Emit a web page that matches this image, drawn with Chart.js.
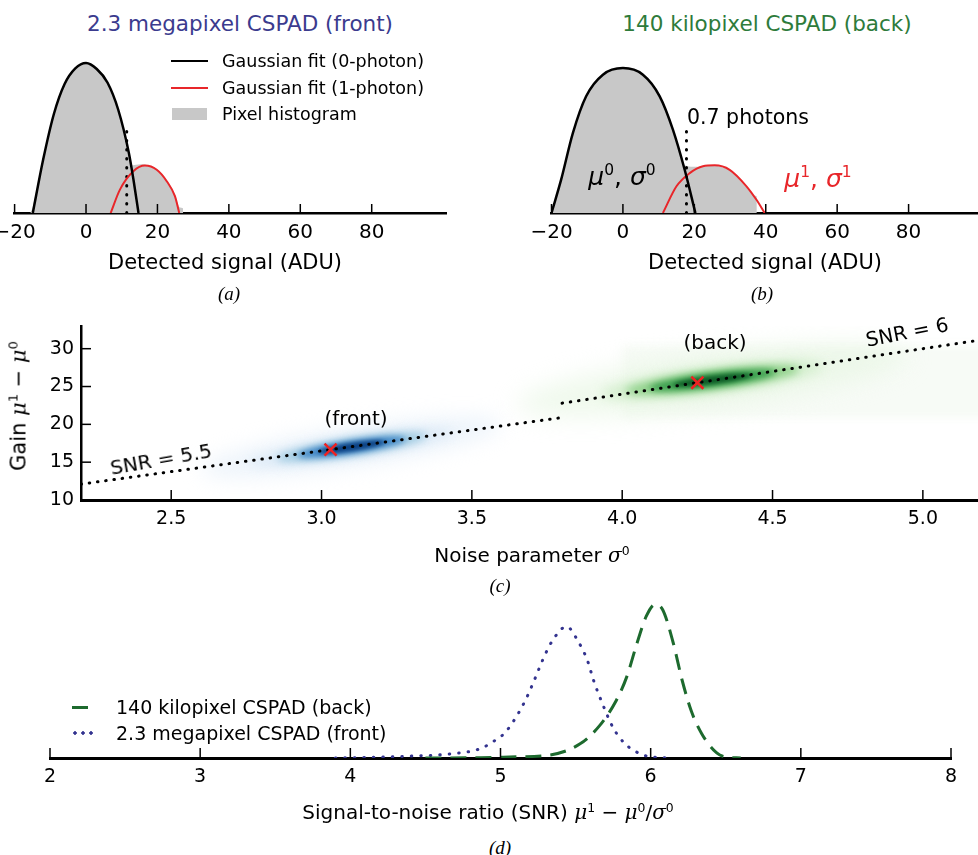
<!DOCTYPE html>
<html>
<head>
<meta charset="utf-8">
<script src="https://cdn.jsdelivr.net/npm/chart.js@4.4.1/dist/chart.umd.min.js"></script>
<style>
html, body { margin: 0; padding: 0; background: #fff; overflow: hidden; }
body { width: 978px; height: 855px; position: relative; font-family: 'DejaVu Sans', sans-serif; color: #000; }
canvas { position: absolute; }
.t { position: absolute; white-space: nowrap; transform: translate(-50%, -50%); line-height: 1; }
.l { position: absolute; white-space: nowrap; transform: translateY(-50%); line-height: 1; }
.sub { font-family: 'Liberation Serif', serif; font-style: italic; font-size: 19px; }
.m { font-family: 'DejaVu Serif', serif; font-style: italic; }
sup { font-size: 62%; vertical-align: 0.6em; line-height: 0; }
.box { position: absolute; }
</style>
</head>
<body>

<canvas id="chartA" width="460" height="240" style="left:0;top:40px"></canvas>
<canvas id="chartB" width="470" height="240" style="left:520px;top:40px"></canvas>
<canvas id="chartC" width="1000" height="240" style="left:0;top:315px"></canvas>
<canvas id="chartD" width="978" height="215" style="left:0;top:590px"></canvas>

<!-- panel (a) text -->
<div class="t" style="left:240px;top:24px;font-size:21.5px;color:#3b3b8e">2.3 megapixel CSPAD (front)</div>
<div class="box" style="left:171px;top:60px;width:37px;border-top:2.5px solid #000"></div>
<div class="box" style="left:171px;top:87px;width:37px;border-top:2px solid #e8262a"></div>
<div class="box" style="left:172px;top:108px;width:35px;height:12px;background:#c8c8c8"></div>
<div class="l" style="left:222px;top:62px;font-size:17.5px">Gaussian fit (0-photon)</div>
<div class="l" style="left:222px;top:89px;font-size:17.5px">Gaussian fit (1-photon)</div>
<div class="l" style="left:222px;top:115px;font-size:17.5px">Pixel histogram</div>
<div class="t" style="left:225px;top:262px;font-size:21px">Detected signal (ADU)</div>
<div class="t sub" style="left:229px;top:293px">(a)</div>

<!-- panel (b) text -->
<div class="t" style="left:767px;top:24px;font-size:21.5px;color:#2e7b3b">140 kilopixel CSPAD (back)</div>
<div class="l" style="left:687px;top:117px;font-size:20.5px">0.7 photons</div>
<div class="t" style="left:622px;top:176px;font-size:25px"><i>μ</i><sup>0</sup>, <i>σ</i><sup>0</sup></div>
<div class="t" style="left:818px;top:178px;font-size:25px;color:#e8262a"><i>μ</i><sup>1</sup>, <i>σ</i><sup>1</sup></div>
<div class="t" style="left:765px;top:262px;font-size:21px">Detected signal (ADU)</div>
<div class="t sub" style="left:762px;top:293px">(b)</div>

<!-- panel (c) text -->
<div class="t" style="left:19px;top:406px;font-size:21px;transform:translate(-50%,-50%) rotate(-90deg)">Gain <span class="m">μ</span><sup>1</sup> − <span class="m">μ</span><sup>0</sup></div>
<div class="t" style="left:356px;top:418px;font-size:20px">(front)</div>
<div class="t" style="left:715px;top:342px;font-size:20px">(back)</div>
<div class="t" style="left:161px;top:459px;font-size:20px;transform:translate(-50%,-50%) rotate(-10deg)">SNR = 5.5</div>
<div class="t" style="left:907px;top:332px;font-size:20px;transform:translate(-50%,-50%) rotate(-11deg)">SNR = 6</div>
<div class="t" style="left:532px;top:555px;font-size:20px">Noise parameter <span class="m">σ</span><sup>0</sup></div>
<div class="t sub" style="left:500px;top:585px">(c)</div>

<!-- panel (d) text -->
<div class="box" style="left:72px;top:705.5px;width:16px;border-top:3px solid #1d6a2e"></div>
<div class="box" style="left:71px;top:731px;width:24px;height:4px;background:radial-gradient(circle, #33338f 1.5px, transparent 1.9px) 0 0/8px 4px repeat-x"></div>
<div class="l" style="left:116px;top:707px;font-size:19px">140 kilopixel CSPAD (back)</div>
<div class="l" style="left:116px;top:733px;font-size:19px">2.3 megapixel CSPAD (front)</div>
<div class="t" style="left:488px;top:812px;font-size:20px">Signal-to-noise ratio (SNR) <span class="m">μ</span><sup>1</sup> − <span class="m">μ</span><sup>0</sup>/<span class="m">σ</span><sup>0</sup></div>
<div class="t sub" style="left:500px;top:847px">(d)</div>

<script>
// ---------- panel (a): front detector, log-counts vs ADU ----------
var adcTicks = [-20, 0, 20, 40, 60, 80];
var frontZeroX = [-14.9, -12, -9, -6, -3, 0, 3, 6, 9, 12, 13.3, 14.7];
var frontZeroY = [0, 1.78, 3.3, 4.3, 4.82, 5.0, 4.8, 4.35, 3.45, 2.0, 1.1, 0];
var frontOneX = [6.9, 9.5, 13.25, 16.5, 19.8, 22.6, 24.9, 26.1];
var frontOneY = [0, 0.78, 1.39, 1.58, 1.44, 1.06, 0.56, 0];
var frontHistX = [-15.6, -14.9, -12, -9, -6, -3, 0, 3, 6, 9, 12, 12.8, 13.5, 16.5, 19.8, 22.6, 24.9, 26.1, 27.2, 27.2];
var frontHistY = [0, 0.2, 1.85, 3.35, 4.35, 4.85, 5.02, 4.85, 4.4, 3.5, 2.05, 1.6, 1.6, 1.62, 1.47, 1.1, 0.6, 0.2, 0.15, 0];
var frontCutX = [11.4, 11.4];
var frontCutY = [0, 2.8];

// ---------- panel (b): back detector ----------
var backZeroX = [-20, -17.3, -14, -10.3, -5.6, 0, 5.6, 10.3, 14, 17.3, 20.3];
var backZeroY = [0, 1.11, 2.67, 3.89, 4.61, 4.83, 4.61, 3.89, 2.78, 1.44, 0];
var backOneX = [11.2, 15, 18.7, 22.4, 25.7, 29.9, 34.6, 37.4, 39.7];
var backOneY = [0, 0.89, 1.33, 1.56, 1.59, 1.44, 0.89, 0.44, 0];
var backHistX = [-19.8, -17.3, -14, -10.3, -5.6, 0, 5.6, 10.3, 14, 16.5, 17.5, 22.4, 25.7, 29.9, 34.6, 36.5, 37.5, 37.5];
var backHistY = [0, 1.11, 2.67, 3.89, 4.61, 4.83, 4.61, 3.89, 2.78, 1.9, 1.58, 1.55, 1.58, 1.42, 0.85, 0.6, 0.55, 0];
var backCutX = [17.8, 17.8];
var backCutY = [0, 2.8];

// ---------- panel (c): gain vs noise ----------
var sigmaTicks = [2.5, 3.0, 3.5, 4.0, 4.5, 5.0];
var gainTicks = [10, 15, 20, 25, 30];
var snrLowSigma = [2.2, 3.8];
var snrLowGain = [12.1, 20.9];
var snrHighSigma = [3.8, 5.2];
var snrHighGain = [22.8, 31.2];
var peakSigma = [3.03, 4.25];
var peakGain = [16.65, 25.5];

// ---------- panel (d): SNR distributions ----------
var snrTicks = [2, 3, 4, 5, 6, 7, 8];
var backSnr = [4.5, 4.87, 5.06, 5.33, 5.53, 5.66, 5.77, 5.84, 5.91, 5.97, 6.03, 6.08, 6.15, 6.21, 6.27, 6.34, 6.44, 6.5, 6.6];
var backDensity = [0, 0.005, 0.015, 0.045, 0.21, 0.48, 0.85, 1.2, 1.71, 2.1, 2.28, 2.2, 1.71, 1.15, 0.7, 0.36, 0.075, 0.015, 0];
var frontSnr = [3.9, 4.11, 4.33, 4.66, 4.86, 4.98, 5.03, 5.11, 5.175, 5.23, 5.28, 5.34, 5.44, 5.52, 5.58, 5.62, 5.67, 5.75, 5.83, 5.95, 6.05, 6.15];
var frontDensity = [0, 0.008, 0.022, 0.06, 0.135, 0.285, 0.375, 0.63, 0.9, 1.18, 1.45, 1.72, 1.95, 1.72, 1.44, 1.15, 0.855, 0.45, 0.21, 0.045, 0.008, 0];

// blob look for the 2D histogram in (c): shape only, centred on the fitted peaks
var blobs = [
  { sigma: 3.1, gain: 17.0, slope: 6.0, layers: [
    { len: 0.50, wid: 2.6, color: 'rgba(222,235,247,0.55)', blur: 10 },
    { len: 0.34, wid: 1.5, color: '#deebf7', blur: 6 },
    { len: 0.25, wid: 1.15, color: '#9ecae1', blur: 4 },
    { len: 0.18, wid: 0.85, color: '#3d85c6', blur: 3 },
    { len: 0.11, wid: 0.55, color: '#0b3f80', blur: 2 }
  ]},
  { sigma: 4.3, gain: 25.85, slope: 5.0, layers: [
    { len: 0.65, wid: 3.5, color: 'rgba(229,245,224,0.6)', blur: 12 },
    { len: 0.37, wid: 1.8, color: '#d5efcf', blur: 6 },
    { len: 0.29, wid: 1.3, color: '#8fd18a', blur: 4 },
    { len: 0.21, wid: 0.95, color: '#3a9e4e', blur: 3 },
    { len: 0.13, wid: 0.55, color: '#0d5a26', blur: 2 }
  ]}
];

Chart.defaults.font.family = "'DejaVu Sans', sans-serif";
Chart.defaults.color = '#000';
Chart.defaults.animation = false;

function pts(xs, ys) {
  return xs.map(function (x, i) { return { x: x, y: ys[i] }; });
}

function minusLabel(v) {
  return v < 0 ? '\u2212' + (-v) : String(v);
}

// fixed axis box so the plot area lands where the figure has it
function fixX(h) {
  return function (s) { s.height = h; s.paddingLeft = 0; s.paddingRight = 0; };
}

function setTicks(list) {
  return function (s) { s.ticks = list.map(function (v) { return { value: v }; }); };
}

// matplotlib style ticks pointing into the axes
var innerTicks = {
  id: 'innerTicks',
  afterDatasetsDraw: function (chart, args, opts) {
    var ctx = chart.ctx, a = chart.chartArea;
    ctx.save();
    ctx.strokeStyle = '#000';
    ctx.lineWidth = opts.width || 1.5;
    var sx = chart.scales.x;
    sx.ticks.forEach(function (t) {
      var p = sx.getPixelForValue(t.value);
      ctx.beginPath(); ctx.moveTo(p, a.bottom); ctx.lineTo(p, a.bottom - opts.len); ctx.stroke();
    });
    if (opts.y) {
      var sy = chart.scales.y;
      sy.ticks.forEach(function (t) {
        var p = sy.getPixelForValue(t.value);
        ctx.beginPath(); ctx.moveTo(a.left, p); ctx.lineTo(a.left + opts.len, p); ctx.stroke();
      });
    }
    ctx.restore();
  }
};

var blobPlugin = {
  id: 'blobs',
  beforeDatasetsDraw: function (chart) {
    var ctx = chart.ctx, a = chart.chartArea, x = chart.scales.x, y = chart.scales.y;
    ctx.save();
    ctx.beginPath(); ctx.rect(a.left, a.top, a.width, a.height); ctx.clip();
    // faint background of the back-detector histogram (starts at sigma = 4)
    ctx.filter = 'blur(4px)';
    ctx.fillStyle = 'rgba(236,246,233,0.4)';
    var x0 = x.getPixelForValue(4.0), x1 = x.getPixelForValue(5.3);
    var y0 = y.getPixelForValue(30.5), y1 = y.getPixelForValue(20.8);
    ctx.fillRect(x0, y0, x1 - x0, y1 - y0);
    blobs.forEach(function (b) {
      b.layers.forEach(function (L) {
        ctx.filter = 'blur(' + L.blur + 'px)';
        ctx.fillStyle = L.color;
        ctx.beginPath();
        for (var k = 0; k <= 72; k++) {
          var t = k / 72 * 2 * Math.PI;
          var d = L.len * Math.cos(t);
          var px = x.getPixelForValue(b.sigma + d);
          var py = y.getPixelForValue(b.gain + b.slope * d + L.wid * Math.sin(t));
          if (k) ctx.lineTo(px, py); else ctx.moveTo(px, py);
        }
        ctx.closePath();
        ctx.fill();
      });
    });
    ctx.restore();
  }
};

function histChart(id, zeroX, zeroY, oneX, oneY, histX, histY, cutX, cutY, pad) {
  return new Chart(document.getElementById(id), {
    type: 'line',
    data: {
      datasets: [
        { data: pts(zeroX, zeroY), borderColor: '#000', borderWidth: 2.5, pointRadius: 0, cubicInterpolationMode: 'monotone' },
        { data: pts(oneX, oneY), borderColor: '#e8262a', borderWidth: 2, pointRadius: 0, cubicInterpolationMode: 'monotone' },
        { data: pts(cutX, cutY), borderColor: '#000', borderWidth: 3, borderDash: [0.5, 8.5], borderCapStyle: 'round', pointRadius: 0 },
        { data: pts(histX, histY), borderWidth: 0, borderColor: 'rgba(0,0,0,0)', backgroundColor: '#c8c8c8', fill: 'origin', pointRadius: 0, tension: 0.3 }
      ]
    },
    options: {
      responsive: false,
      devicePixelRatio: 1,
      layout: { padding: pad },
      plugins: { legend: { display: false }, tooltip: { enabled: false }, innerTicks: { len: 9, width: 1.5 } },
      scales: {
        x: {
          type: 'linear', min: -20, max: id === 'chartA' ? 101 : 100,
          grid: { display: false, drawTicks: false },
          border: { display: true, color: '#000', width: 2.5 },
          afterBuildTicks: setTicks(adcTicks),
          afterFit: fixX(45),
          ticks: { autoSkip: false, maxRotation: 0, padding: 8, font: { size: 20 }, color: '#000', callback: minusLabel }
        },
        y: { display: false, min: 0, max: 5.4 }
      }
    },
    plugins: [innerTicks]
  });
}

histChart('chartA', frontZeroX, frontZeroY, frontOneX, frontOneY, frontHistX, frontHistY, frontCutX, frontCutY,
  { left: 14.6, right: 13.3, top: 11, bottom: 22 });
histChart('chartB', backZeroX, backZeroY, backOneX, backOneY, backHistX, backHistY, backCutX, backCutY,
  { left: 31.5, right: 10, top: 11, bottom: 22 });

// ---------- (c) ----------
new Chart(document.getElementById('chartC'), {
  type: 'line',
  data: {
    datasets: [
      { type: 'scatter', data: pts(peakSigma, peakGain), pointStyle: 'crossRot', pointRadius: 8.5, borderColor: '#ee2222', borderWidth: 2.5, showLine: false },
      { data: pts(snrLowSigma, snrLowGain), borderColor: '#000', borderWidth: 3, borderDash: [0.5, 7.8], borderCapStyle: 'round', pointRadius: 0 },
      { data: pts(snrHighSigma, snrHighGain), borderColor: '#000', borderWidth: 3, borderDash: [0.5, 7.8], borderCapStyle: 'round', pointRadius: 0 }
    ]
  },
  options: {
    responsive: false,
    devicePixelRatio: 1,
    layout: { padding: { left: 0, right: 17, top: 9, bottom: 10 } },
    plugins: { legend: { display: false }, tooltip: { enabled: false }, innerTicks: { len: 10, width: 1.5, y: true } },
    scales: {
      x: {
        type: 'linear', min: 2.2, max: 5.2,
        grid: { display: false, drawTicks: false },
        border: { display: true, color: '#000', width: 3 },
        afterBuildTicks: setTicks(sigmaTicks),
        afterFit: fixX(45),
        ticks: { autoSkip: false, maxRotation: 0, padding: 8, font: { size: 19 }, color: '#000', callback: function (v) { return v.toFixed(1); } }
      },
      y: {
        type: 'linear', min: 10, max: 33,
        grid: { display: false, drawTicks: false },
        border: { display: true, color: '#000', width: 2.5 },
        afterBuildTicks: setTicks(gainTicks),
        afterFit: function (s) { s.width = 81; s.paddingTop = 0; s.paddingBottom = 0; },
        ticks: { autoSkip: false, padding: 7, font: { size: 19 }, color: '#000' }
      }
    }
  },
  plugins: [blobPlugin, innerTicks]
});

// ---------- (d) ----------
new Chart(document.getElementById('chartD'), {
  type: 'line',
  data: {
    datasets: [
      { data: pts(backSnr, backDensity), borderColor: '#1d6a2e', borderWidth: 3, borderDash: [16, 9], pointRadius: 0, cubicInterpolationMode: 'monotone' },
      { data: pts(frontSnr, frontDensity), borderColor: '#33338f', borderWidth: 3, borderDash: [0.5, 9], borderCapStyle: 'round', pointRadius: 0, cubicInterpolationMode: 'monotone' }
    ]
  },
  options: {
    responsive: false,
    devicePixelRatio: 1,
    layout: { padding: { left: 50, right: 27, top: 13, bottom: 2 } },
    plugins: { legend: { display: false }, tooltip: { enabled: false }, innerTicks: { len: 10, width: 1.5 } },
    scales: {
      x: {
        type: 'linear', min: 2, max: 8,
        grid: { display: false, drawTicks: false },
        border: { display: true, color: '#000', width: 3 },
        afterBuildTicks: setTicks(snrTicks),
        afterFit: fixX(45),
        ticks: { autoSkip: false, maxRotation: 0, padding: 8, font: { size: 19 }, color: '#000' }
      },
      y: { display: false, min: 0, max: 2.3 }
    }
  },
  plugins: [innerTicks]
});
</script>
</body>
</html>
